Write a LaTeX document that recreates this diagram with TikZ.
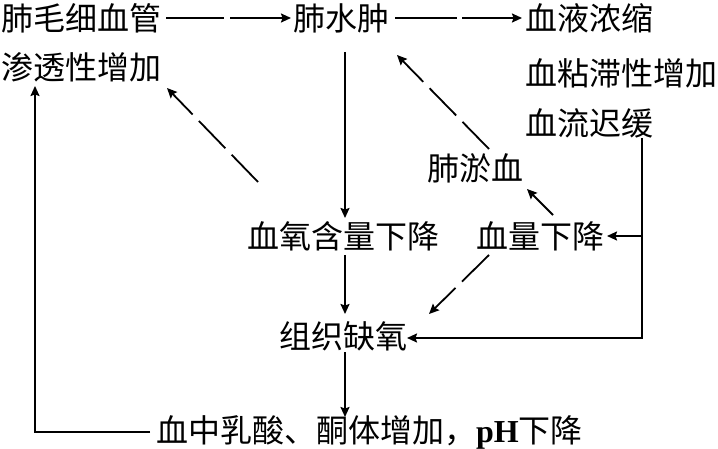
\documentclass[tikz,border=0pt]{standalone}
\usepackage{fontspec}
\setmainfont{Noto Sans CJK SC}
\usetikzlibrary{arrows.meta}
\begin{document}
\begin{tikzpicture}[x=1pt,y=-1pt,
  lbl/.style={anchor=west,inner sep=0pt,font=\fontsize{32}{32}\selectfont},
  conn/.style={line width=1.8pt,-{Stealth[length=10pt,width=9pt,inset=1.5pt]}},
  longdash/.style={dash pattern=on 38pt off 9pt}]
\useasboundingbox (0,0) rectangle (718,449);
\node[lbl] (n1) at (1,18) {肺毛细血管};
\node[lbl] (n2) at (1,67) {渗透性增加};
\node[lbl] (n3) at (293,18) {肺水肿};
\node[lbl] (n4) at (525,18) {血液浓缩};
\node[lbl] (n5) at (525,73) {血粘滞性增加};
\node[lbl] (n6) at (525,123) {血流迟缓};
\node[lbl] (n7) at (427,168) {肺淤血};
\node[lbl] (n8) at (247,236) {血氧含量下降};
\node[lbl] (n9) at (476,236) {血量下降};
\node[lbl] (n10) at (279,336) {组织缺氧};
\node[lbl] (n11) at (156,432) {血中乳酸、酮体增加，{\fontspec{Liberation Serif}\bfseries pH}下降};
% coordinates for free ends
\coordinate (a1) at (166,18); \coordinate (a2) at (291,18);
\coordinate (b1) at (395,18); \coordinate (b2) at (522,18);
\coordinate (c1) at (345,52); \coordinate (c2) at (345,218);
\coordinate (d1) at (258,182); \coordinate (d2) at (167,88);
\coordinate (f1) at (489,149); \coordinate (f2) at (397,55);
\coordinate (g1) at (553,215); \coordinate (g2) at (527,189);
\coordinate (h1) at (489,255); \coordinate (h2) at (429,314);
\coordinate (i1) at (345,255); \coordinate (i2) at (345,314);
\coordinate (j1) at (345,352); \coordinate (j2) at (345,417);
\coordinate (k1) at (642,138); \coordinate (k2) at (642,338); \coordinate (k3) at (407,338);
\coordinate (m1) at (642,236); \coordinate (m2) at (607,236);
\coordinate (p1) at (150,432); \coordinate (p2) at (35,432); \coordinate (p3) at (35,86);
\draw[conn,dash pattern=on 58pt off 6pt] (a1) -- (a2);
\draw[conn,dash pattern=on 62pt off 5pt] (b1) -- (b2);
\draw[conn] (c1) -- (c2);
\draw[conn,longdash] (d1) -- (d2);
\draw[conn,longdash] (f1) -- (f2);
\draw[conn] (g1) -- (g2);
\draw[conn,longdash] (h1) -- (h2);
\draw[conn] (i1) -- (i2);
\draw[conn] (j1) -- (j2);
\draw[conn] (k1) -- (k2) -- (k3);
\draw[conn] (m1) -- (m2);
\draw[conn] (p1) -- (p2) -- (p3);
\end{tikzpicture}
\end{document}
